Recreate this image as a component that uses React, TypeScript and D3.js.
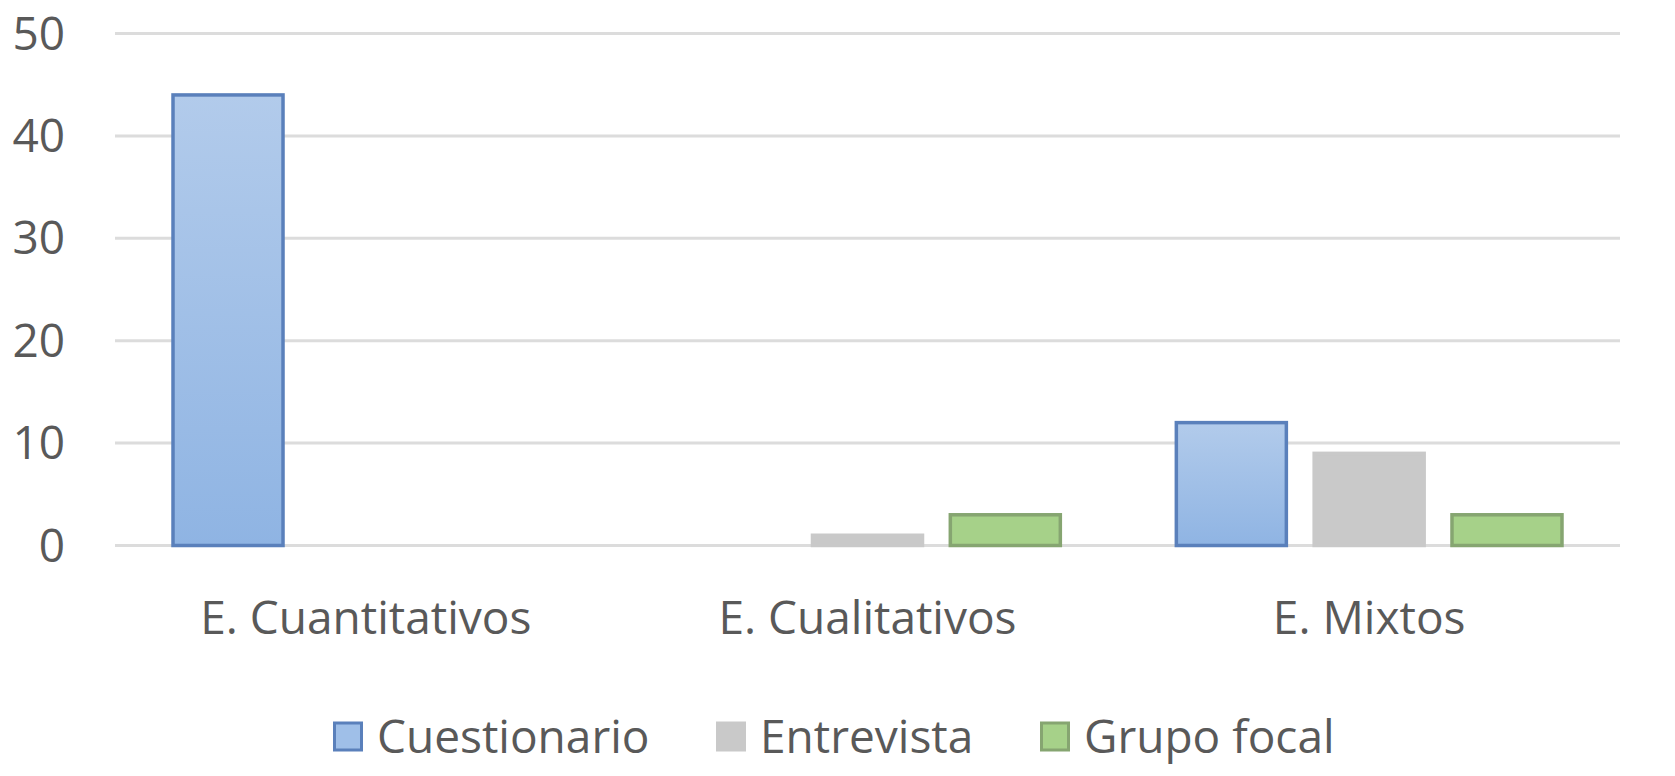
import React from "react";
import * as d3 from "d3";

const categories = ["E. Cuantitativos", "E. Cualitativos", "E. Mixtos"];
const seriesNames = ["Cuestionario", "Entrevista", "Grupo focal"];
const cuestionario = [44, 0, 12];
const entrevista = [0, 1, 9];
const grupoFocal = [0, 3, 3];
const yTicks = [0, 10, 20, 30, 40, 50];

const seriesValues = [cuestionario, entrevista, grupoFocal];
const fills = ["url(#blueFill)", "#c9c9c9", "#a6d189"];
const strokes = ["#5a80bb", "#c9c9c9", "#86a571"];
const swatchFills = ["#9fbfe8", "#c9c9c9", "#a6d189"];

const W = 1675;
const H = 776;
const FONT = "'Open Sans', sans-serif";
const TEXT = "#595959";

export default function App() {
  const x = d3.scaleBand().domain(categories).range([115, 1620]).padding(0);
  const x1 = d3
    .scaleBand()
    .domain(seriesNames)
    .range([0, x.bandwidth()])
    .paddingInner(0.18)
    .paddingOuter(0.41);
  const y = d3.scaleLinear().domain([0, 50]).range([545.5, 33.5]);

  // legend layout
  const sw = 30;
  const gapText = 14;
  const gapItem = 66;
  const widths = [273, 214, 245];
  const total =
    widths.reduce((a, b) => a + b, 0) + 3 * (sw + gapText) + 2 * gapItem;
  let lx = 831 - total / 2;
  const legendPos = widths.map((w) => {
    const p = lx;
    lx += sw + gapText + w + gapItem;
    return p;
  });

  return (
    <svg
      width={W}
      height={H}
      style={{ position: "absolute", left: 0, top: 0, background: "#fff" }}
      fontFamily={FONT}
    >
      <defs>
        <linearGradient id="blueFill" x1="0" y1="0" x2="0" y2="1">
          <stop offset="0%" stopColor="#b2cbeb" />
          <stop offset="100%" stopColor="#8fb4e3" />
        </linearGradient>
      </defs>

      {/* gridlines */}
      {yTicks.map((t) => (
        <g key={t}>
          <line
            x1={115}
            x2={1620}
            y1={y(t)}
            y2={y(t)}
            stroke="#dcdcdc"
            strokeWidth={3}
          />
          <text
            x={65}
            y={y(t)}
            dy="0.35em"
            textAnchor="end"
            fontSize={46}
            fill={TEXT}
          >
            {t}
          </text>
        </g>
      ))}

      {/* bars */}
      {categories.map((c, ci) => (
        <g key={c} transform={`translate(${x(c)},0)`}>
          {seriesNames.map((s, si) => {
            const v = seriesValues[si][ci];
            if (!v) return null;
            return (
              <rect
                key={s}
                x={(x1(s) as number) + 1.5}
                y={y(v)}
                width={x1.bandwidth() - 3}
                height={y(0) - y(v)}
                fill={fills[si]}
                stroke={strokes[si]}
                strokeWidth={3.5}
              />
            );
          })}
          <text
            x={x.bandwidth() / 2}
            y={634}
            textAnchor="middle"
            fontSize={46}
            fill={TEXT}
          >
            {c}
          </text>
        </g>
      ))}

      {/* legend */}
      {seriesNames.map((s, i) => (
        <g key={s} transform={`translate(${legendPos[i]},0)`}>
          <rect
            x={1.5}
            y={723}
            width={sw - 3}
            height={sw - 3}
            fill={swatchFills[i]}
            stroke={strokes[i]}
            strokeWidth={3}
          />
          <text x={sw + gapText} y={753} fontSize={46} fill={TEXT}>
            {s}
          </text>
        </g>
      ))}
    </svg>
  );
}
